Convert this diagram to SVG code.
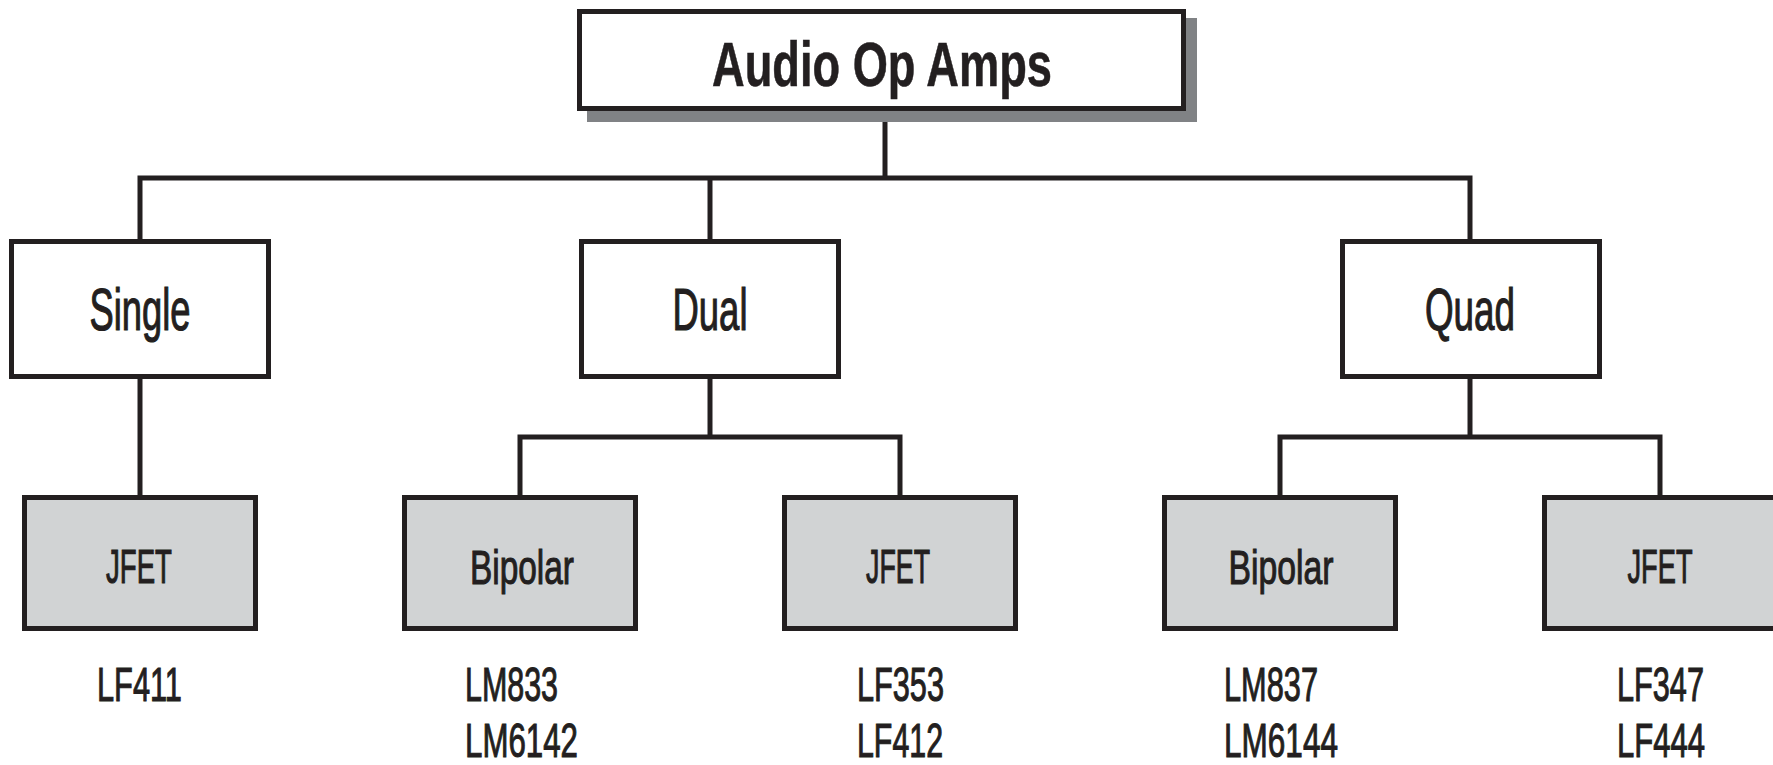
<svg xmlns="http://www.w3.org/2000/svg" width="1773" height="765" viewBox="0 0 1773 765">
  <style>
    .box { fill: #ffffff; stroke: #231f20; stroke-width: 5; }
    .sub { fill: #d1d3d4; stroke: #231f20; stroke-width: 5; }
    .shadow { fill: #808285; }
    .conn { fill: none; stroke: #231f20; stroke-width: 5; stroke-linejoin: miter; stroke-linecap: butt; }
    text { font-family: "Liberation Sans", Arial, sans-serif; fill: #231f20; }
    .title { font-size: 63px; font-weight: bold; text-anchor: middle; stroke: #231f20; stroke-width: 0.6; }
    .l1 { font-size: 60px; text-anchor: middle; stroke: #231f20; stroke-width: 1.2; }
    .l2 { font-size: 49px; text-anchor: middle; stroke: #231f20; stroke-width: 1.1; }
    .part { font-size: 49px; stroke: #231f20; stroke-width: 1.1; }
  </style>
  <rect width="1773" height="765" fill="#ffffff"/>

  <g id="connectors">
    <path class="conn" d="M885 111 V178"/>
    <path class="conn" d="M140 239 V178 H1470 V239"/>
    <path class="conn" d="M710 178 V239"/>
    <path class="conn" d="M140 379 V495"/>
    <path class="conn" d="M710 379 V437"/>
    <path class="conn" d="M520 495 V437 H900 V495"/>
    <path class="conn" d="M1470 379 V437"/>
    <path class="conn" d="M1280 495 V437 H1660 V495"/>
  </g>

  <g id="audio-op-amps">
    <rect class="shadow" x="587" y="18" width="610" height="104"/>
    <rect class="box" x="579.5" y="11.5" width="604" height="97"/>
    <text class="title" x="882" y="86" textLength="340" lengthAdjust="spacingAndGlyphs">Audio Op Amps</text>
  </g>

  <g id="single">
    <rect class="box" x="11.5" y="241.5" width="257" height="135"/>
    <text class="l1" x="140" y="330" textLength="101" lengthAdjust="spacingAndGlyphs">Single</text>
  </g>
  <g id="dual">
    <rect class="box" x="581.5" y="241.5" width="257" height="135"/>
    <text class="l1" x="710" y="330" textLength="75" lengthAdjust="spacingAndGlyphs">Dual</text>
  </g>
  <g id="quad">
    <rect class="box" x="1342.5" y="241.5" width="257" height="135"/>
    <text class="l1" x="1470" y="330" textLength="90" lengthAdjust="spacingAndGlyphs">Quad</text>
  </g>

  <g id="single-jfet">
    <rect class="sub" x="24.5" y="497.5" width="231" height="131"/>
    <text class="l2" x="139" y="583" textLength="66" lengthAdjust="spacingAndGlyphs">JFET</text>
    <text class="part" x="97" y="701" textLength="85" lengthAdjust="spacingAndGlyphs">LF411</text>
  </g>
  <g id="dual-bipolar">
    <rect class="sub" x="404.5" y="497.5" width="231" height="131"/>
    <text class="l2" x="522" y="584" textLength="104" lengthAdjust="spacingAndGlyphs">Bipolar</text>
    <text class="part" x="465" y="701" textLength="93" lengthAdjust="spacingAndGlyphs">LM833</text>
    <text class="part" x="465" y="757" textLength="113" lengthAdjust="spacingAndGlyphs">LM6142</text>
  </g>
  <g id="dual-jfet">
    <rect class="sub" x="784.5" y="497.5" width="231" height="131"/>
    <text class="l2" x="898" y="583" textLength="64" lengthAdjust="spacingAndGlyphs">JFET</text>
    <text class="part" x="857" y="701" textLength="87" lengthAdjust="spacingAndGlyphs">LF353</text>
    <text class="part" x="857" y="757" textLength="86" lengthAdjust="spacingAndGlyphs">LF412</text>
  </g>
  <g id="quad-bipolar">
    <rect class="sub" x="1164.5" y="497.5" width="231" height="131"/>
    <text class="l2" x="1281" y="584" textLength="105" lengthAdjust="spacingAndGlyphs">Bipolar</text>
    <text class="part" x="1224" y="701" textLength="94" lengthAdjust="spacingAndGlyphs">LM837</text>
    <text class="part" x="1224" y="757" textLength="114" lengthAdjust="spacingAndGlyphs">LM6144</text>
  </g>
  <g id="quad-jfet">
    <rect class="sub" x="1544.5" y="497.5" width="231" height="131"/>
    <text class="l2" x="1660" y="583" textLength="65" lengthAdjust="spacingAndGlyphs">JFET</text>
    <text class="part" x="1617" y="701" textLength="87" lengthAdjust="spacingAndGlyphs">LF347</text>
    <text class="part" x="1617" y="757" textLength="88" lengthAdjust="spacingAndGlyphs">LF444</text>
  </g>
</svg>
